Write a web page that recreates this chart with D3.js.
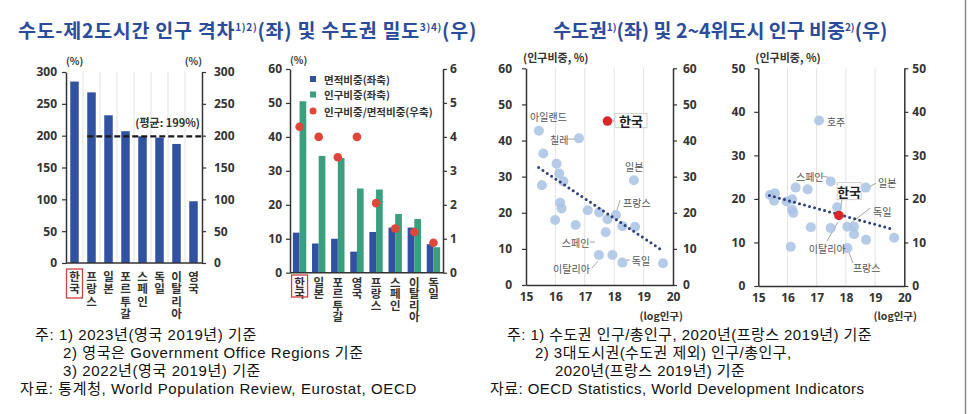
<!DOCTYPE html>
<html><head><meta charset="utf-8">
<script src="https://cdn.jsdelivr.net/npm/d3@7"></script>
<style>
body{margin:0;background:#fff;}
svg{display:block;font-family:"Noto Sans CJK KR","Noto Sans",sans-serif;}
.vt{writing-mode:vertical-rl;text-orientation:upright;}
</style></head><body>
<svg id="c" width="970" height="414"></svg>
<script>
// ---------- DATA ----------
const p1Categories = ["한국","프랑스","일본","포르투갈","스페인","독일","이탈리아","영국"];
const p1Values = [285,268,232,207,199,197,187,97];
const p1Average = 199;
const p1Ticks = [0,50,100,150,200,250,300];

const p2Categories = ["한국","일본","포르투갈","영국","프랑스","스페인","이탈리아","독일"];
const p2AreaShare = [11.8,8.6,10.0,6.2,12.0,13.3,13.3,8.4];
const p2PopShare = [50.5,34.4,33.8,24.8,24.5,17.3,15.8,7.5];
const p2Ratio = [4.3,4.0,3.4,4.0,2.05,1.3,1.2,0.88];
const p2TicksLeft = [0,10,20,30,40,50,60];
const p2TicksRight = [0,1,2,3,4,5,6];
const p2Legend = ["면적비중(좌축)","인구비중(좌축)","인구비중/면적비중(우축)"];

const p3LogPop = [15.44,16.8,15.59,16.04,16.13,16.27,15.54,16.16,16.21,15.99,16.69,17.1,17.49,17.77,18.06,18.28,18.71,18.67,17.71,17.48,17.94,18.28,19.66];
const p3Share  = [42.7,40.6,36.4,33.6,30.9,28.7,27.6,22.8,21.2,18.0,16.6,20.7,20.1,18.2,19.4,16.3,16.1,29.0,14.6,8.3,8.3,6.2,6.0];
const p3Korea = [17.77,45.4];
const p3Trend = [[15.43,32.5],[19.63,9.6]];
const p3YTicks = [0,10,20,30,40,50,60];

const p4LogPop = [17.08,17.48,18.68,16.28,16.69,15.4,15.57,15.54,15.97,16.16,16.16,16.2,17.7,16.8,17.48,18.05,18.28,18.28,18.69,19.65,16.11,18.05];
const p4Share  = [38.0,24.0,22.6,22.6,22.2,20.9,21.3,19.6,19.4,19.9,17.5,16.8,18.1,13.5,13.3,13.6,13.6,11.9,10.6,11.1,9.0,8.7];
const p4Korea = [17.76,16.2];
const p4Trend = [[15.38,20.8],[19.62,13.0]];
const p4YTicks = [0,10,20,30,40,50];

const xTicksLog = [15,16,17,18,19,20];

// ---------- STYLE ----------
const C = {title:"#2b4b9b", blue:"#3152a1", green:"#3a9e7f", red:"#e0463a", axis:"#333", tick:"#333",
  grid:"#e2e2e2", dot:"#a9c2e4", korea:"#d8262a", trend:"#2d3f7c", label:"#555"};

const svg = d3.select("#c");

// ---------- TITLES ----------
function title(x, y, parts, fs, targetW){
  const t = svg.append("text").attr("x",x).attr("y",y).attr("fill",C.title)
    .attr("font-size",fs).attr("font-weight",700);
  let raise = false;
  parts.forEach(p=>{
    if(p.sup){ t.append("tspan").attr("font-size",10).attr("dy",-7).text(p.sup); raise = true; }
    else { const s = t.append("tspan").text(p.t); if(raise){ s.attr("dy",7); raise=false; } }
  });
  const node = t.node();
  const w = node.getComputedTextLength();
  const n = node.textContent.length;
  t.attr("letter-spacing", Math.max(0,(targetW - w)/n));
}
title(18,38,[{t:"수도-제2도시간 인구 격차"},{sup:"1)2)"},{t:"(좌) 및 수도권 밀도"},{sup:"3)4)"},{t:"(우)"}],19.5,459);
title(553,38,[{t:"수도권"},{sup:"1)"},{t:"(좌) 및 2~4위도시 인구 비중"},{sup:"2)"},{t:"(우)"}],19.5,330);

svg.append("line").attr("x1",965.5).attr("x2",965.5).attr("y1",0).attr("y2",414).attr("stroke","#888").attr("stroke-width",1.5);

// ---------- HELPERS ----------
function styleAxis(g, fs){
  g.select(".domain").attr("stroke",C.axis).attr("stroke-width",1.5);
  g.selectAll(".tick line").attr("stroke",C.axis).attr("stroke-width",1.2);
  g.selectAll(".tick text").attr("fill",C.tick).attr("font-size",fs||12).attr("font-weight",700)
    .attr("font-family","'Open Sans','Noto Sans',sans-serif");
}
const fmt = d3.format("d");
function yAxes(y, left, right, ticksL, ticksR, yR, padL, padR){
  const gl = svg.append("g").attr("transform",`translate(${left},0)`)
    .call(d3.axisLeft(y).tickValues(ticksL).tickFormat(fmt).tickSize(4).tickPadding(padL).tickSizeOuter(0));
  styleAxis(gl);
  const gr = svg.append("g").attr("transform",`translate(${right},0)`)
    .call(d3.axisRight(yR||y).tickValues(ticksR||ticksL).tickFormat(fmt).tickSize(4).tickPadding(padR).tickSizeOuter(0));
  styleAxis(gr);
}
function verticalLabels(x, cats, yTop, spacing, boxTop, boxBottom){
  cats.forEach((c,i)=>{
    const cx = x(c)+x.bandwidth()/2;
    svg.append("text").attr("class","vt").attr("x",cx).attr("y",yTop)
      .attr("font-size",11.5).attr("font-weight",700).attr("letter-spacing",spacing)
      .attr("fill","#333").text(c);
    if(i===0){
      svg.append("rect").attr("x",cx-8).attr("y",boxTop).attr("width",16).attr("height",boxBottom-boxTop)
        .attr("fill","none").attr("stroke","#d0403c").attr("stroke-width",1.3);
    }
  });
}
function unitLabel(x,y,txt,anchor,fs){
  svg.append("text").attr("x",x).attr("y",y).attr("text-anchor",anchor||"start")
    .attr("font-size",fs||10).attr("font-weight",700).attr("fill","#333").text(txt);
}

// ---------- PANEL 1 ----------
(function(){
  const L=66,R=202,T=72,B=263;
  const x = d3.scaleBand().domain(p1Categories).range([L,R]).paddingInner(0.5).paddingOuter(0.25);
  const y = d3.scaleLinear().domain([0,300]).range([B,T]);
  d3.range(1,p1Categories.length).forEach(i=>{
    const gx = L + i*x.step();
    svg.append("line").attr("x1",gx).attr("x2",gx).attr("y1",T).attr("y2",B).attr("stroke",C.grid);
  });
  svg.append("g").selectAll("rect").data(p1Values).join("rect")
    .attr("x",(d,i)=>x(p1Categories[i])).attr("width",x.bandwidth())
    .attr("y",d=>y(d)).attr("height",d=>B-y(d)).attr("fill",C.blue);
  yAxes(y,L,R,p1Ticks,null,null,5,8);
  svg.append("line").attr("x1",L).attr("x2",R).attr("y1",B).attr("y2",B).attr("stroke",C.axis).attr("stroke-width",1.5);
  svg.append("line").attr("x1",x(p1Categories[1])).attr("x2",R).attr("y1",y(p1Average)).attr("y2",y(p1Average))
    .attr("stroke","#1a1a1a").attr("stroke-width",2.2).attr("stroke-dasharray","6,3");
  svg.append("text").attr("x",R-2).attr("y",y(p1Average)-9).attr("text-anchor","end")
    .attr("font-size",11).attr("font-weight",700).attr("fill","#333").text(`(평균: ${p1Average}%)`);
  unitLabel(L,65,"(%)","start");
  unitLabel(R,65,"(%)","end");
  verticalLabels(x,p1Categories,271,0.8,269,298);
})();

// ---------- PANEL 2 ----------
(function(){
  const L=290,R=443,T=69,B=272.7;
  const x = d3.scaleBand().domain(p2Categories).range([L,R]).paddingInner(0.3).paddingOuter(0.15);
  const y = d3.scaleLinear().domain([0,60]).range([B,T]);
  const yR = d3.scaleLinear().domain([0,6]).range([B,T]);
  const bw = x.bandwidth()/2;
  svg.append("g").selectAll("rect").data(p2AreaShare).join("rect")
    .attr("x",(d,i)=>x(p2Categories[i])).attr("width",bw)
    .attr("y",d=>y(d)).attr("height",d=>B-y(d)).attr("fill",C.blue);
  svg.append("g").selectAll("rect").data(p2PopShare).join("rect")
    .attr("x",(d,i)=>x(p2Categories[i])+bw).attr("width",bw)
    .attr("y",d=>y(d)).attr("height",d=>B-y(d)).attr("fill",C.green);
  svg.append("g").selectAll("circle").data(p2Ratio).join("circle")
    .attr("cx",(d,i)=>x(p2Categories[i])+x.bandwidth()/2).attr("cy",d=>yR(d)).attr("r",4.3).attr("fill",C.red);
  yAxes(y,L,R,p2TicksLeft,p2TicksRight,yR,4,3);
  svg.append("line").attr("x1",L).attr("x2",R).attr("y1",B).attr("y2",B).attr("stroke",C.axis).attr("stroke-width",1.5);
  unitLabel(L,64,"(%)","start");
  const ly=[79,94.5,111];
  svg.append("rect").attr("x",310).attr("y",ly[0]-3).attr("width",6).attr("height",6).attr("fill",C.blue);
  svg.append("rect").attr("x",310).attr("y",ly[1]-3).attr("width",6).attr("height",6).attr("fill",C.green);
  svg.append("circle").attr("cx",313).attr("cy",ly[2]).attr("r",3.5).attr("fill",C.red);
  p2Legend.forEach((t,i)=>svg.append("text").attr("x",324).attr("y",ly[i]).attr("dominant-baseline","central")
    .attr("font-size",10.5).attr("font-weight",700).attr("fill","#333").text(t));
  verticalLabels(x,p2Categories,276.5,0,275,297);
})();

// ---------- SCATTER PANELS ----------
function scatter(cfg){
  const {L,R,T,B,ymax,yTicks,xs,ys,korea,trend,padL,padR,labels,lines,box,logX} = cfg;
  const x = d3.scaleLinear().domain([15,20]).range([L,R]);
  const y = d3.scaleLinear().domain([0,ymax]).range([B,T]);
  [16,17,18,19].forEach(v=>svg.append("line").attr("x1",x(v)).attr("x2",x(v)).attr("y1",T).attr("y2",B).attr("stroke",C.grid));
  lines.forEach(pts=>svg.append("path").attr("d",d3.line().x(d=>x(d[0])).y(d=>y(d[1]))(pts))
    .attr("fill","none").attr("stroke","#9a9a9a").attr("stroke-width",0.9));
  svg.append("g").selectAll("circle").data(xs).join("circle")
    .attr("cx",d=>x(d)).attr("cy",(d,i)=>y(ys[i])).attr("r",5).attr("fill",C.dot).attr("opacity",0.85);
  svg.append("path").attr("d",d3.line().x(d=>x(d[0])).y(d=>y(d[1]))(trend))
    .attr("stroke",C.trend).attr("stroke-width",3).attr("stroke-linecap","round").attr("stroke-dasharray","0,5.2").attr("fill","none");
  svg.append("circle").attr("cx",x(korea[0])).attr("cy",y(korea[1])).attr("r",4.8).attr("fill",C.korea);
  svg.append("rect").attr("x",x(box[0])-box[2]/2).attr("y",y(box[1])-box[3]/2).attr("width",box[2]).attr("height",box[3])
    .attr("fill","#fff").attr("stroke","#cfcfcf").attr("stroke-width",1);
  svg.append("text").attr("x",x(box[0])).attr("y",y(box[1])).attr("text-anchor","middle").attr("dominant-baseline","central")
    .attr("font-size",13).attr("font-weight",700).attr("fill","#222").text("한국");
  labels.forEach(l=>svg.append("text").attr("x",x(l[1])).attr("y",y(l[2])).attr("dominant-baseline","central")
    .attr("font-size",10).attr("fill",C.label).text(l[0]));
  yAxes(y,L,R,yTicks,null,null,padL,padR);
  const gx = svg.append("g").attr("transform",`translate(0,${B})`)
    .call(d3.axisBottom(x).tickValues(xTicksLog).tickFormat(fmt).tickSize(0).tickPadding(7));
  styleAxis(gx);
  unitLabel(L-3,62,"(인구비중, %)","start",11);
  unitLabel(logX,320,"(log인구)","end",10.5);
}

scatter({L:526,R:673,T:68.3,B:285,ymax:60,yTicks:p3YTicks,xs:p3LogPop,ys:p3Share,korea:p3Korea,trend:p3Trend,
  padL:10,padR:6,logX:683,
  box:[18.57,45.5,32,14],
  labels:[["아일랜드",15.14,46.7],["칠레",15.82,40.4],["일본",18.37,32.9],["프랑스",18.3,22.8],["스페인",16.22,11.9],["이탈리아",15.92,4.7],["독일",18.6,6.9]],
  lines:[[[16.39,40.4],[16.66,40.4]],[[17.77,45.4],[18.03,45.4]],[[18.2,23.5],[18.09,20.7]],[[17.18,11.9],[17.35,11.9]],[[17.24,4.7],[17.45,6.6]],[[18.42,6.9],[18.53,6.9]]]
});
scatter({L:758.3,R:904.3,T:68.3,B:286,ymax:50,yTicks:p4YTicks,xs:p4LogPop,ys:p4Share,korea:p4Korea,trend:p4Trend,
  padL:9,padR:4,logX:917,
  box:[18.11,21.8,24,17],
  labels:[["호주",17.35,37.8],["스페인",16.29,25.2],["일본",19.1,23.85],["독일",18.93,17.2],["이탈리아",16.73,8.5],["프랑스",18.24,4.36]],
  lines:[[[17.18,25.2],[17.39,25.0],[17.46,24.1]],[[19.03,23.6],[18.79,22.7]],[[17.87,19.9],[17.76,16.2]],[[18.83,17.9],[18.17,14.45]],[[17.35,10.3],[17.73,14.7]],[[18.24,5.3],[18.1,7.8]]]
});

// ---------- FOOTNOTES ----------
function notes(lines, ls){
  lines.forEach(l=>svg.append("text").attr("x",l[0]).attr("y",l[1]).attr("font-size",15).attr("fill","#111")
    .attr("font-family","'Liberation Sans','Noto Sans CJK KR',sans-serif").attr("letter-spacing",ls)
    .attr("dominant-baseline","central").text(l[2]));
}
notes([[35,334,"주: 1) 2023년(영국 2019년) 기준"],[63,352,"2) 영국은 Government Office Regions 기준"],[63,370,"3) 2022년(영국 2019년) 기준"],[20,388,"자료: 통계청, World Population Review, Eurostat, OECD"]],0.6);
notes([[507,334,"주: 1) 수도권 인구/총인구, 2020년(프랑스 2019년) 기준"],[535,352,"2) 3대도시권(수도권 제외) 인구/총인구,"],[555,370,"2020년(프랑스 2019년) 기준"],[490,388,"자료: OECD Statistics, World Development Indicators"]],0.45);
</script>
</body></html>
